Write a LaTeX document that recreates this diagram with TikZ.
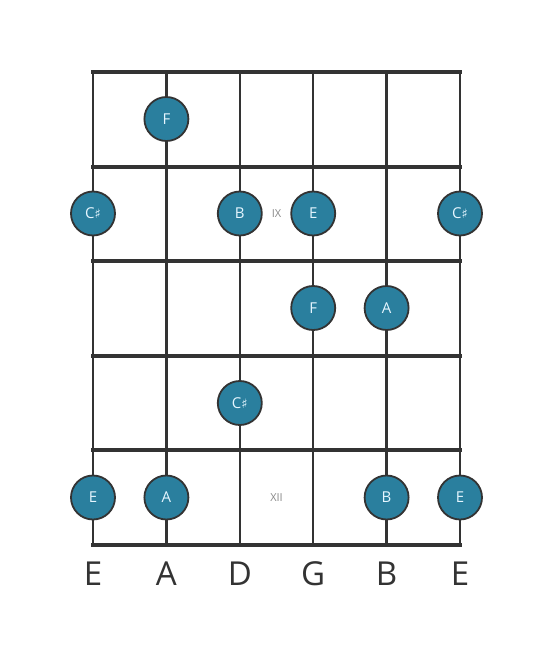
\documentclass[tikz,border=0pt]{standalone}
\usepackage{fontspec}
\setmainfont{Open Sans}
\newfontfamily\symfont{DejaVu Sans}
\newcommand{\shp}{{\symfont\fontsize{13}{13}\selectfont ♯}}
\definecolor{linec}{HTML}{333333}
\definecolor{notefill}{HTML}{2A7F9E}
\definecolor{notetext}{HTML}{E6F6FF}
\definecolor{fretnum}{HTML}{8A8A8A}
\begin{document}
\begin{tikzpicture}[x=1pt,y=-1pt,
  stringline/.style={draw=linec,line width=2.4pt},
  fretline/.style={draw=linec,line width=4pt},
  note/.style={circle,draw=linec,line width=1.8pt,fill=notefill,minimum size=44pt,inner sep=0pt,text=notetext,font=\fontsize{15}{15}\selectfont},
  fretlabel/.style={text=fretnum,font=\fontsize{11}{11}\selectfont},
  stringname/.style={text=linec,font=\fontsize{33}{33}\selectfont}]
\useasboundingbox (0,0) rectangle (553,656);
\fill[white] (0,0) rectangle (553,656);
% strings
\foreach \i/\x in {1/93,2/166.4,3/239.8,4/313.2,5/386.6,6/460}{
  \coordinate (st\i) at (\x,72);
  \coordinate (sb\i) at (\x,544.5);
  \draw[stringline] (st\i) -- (sb\i);
}
% frets
\foreach \j/\y in {0/72,1/166.5,2/261,3/355.5,4/450,5/544.5}{
  \coordinate (fl\j) at (91,\y);
  \coordinate (fr\j) at (462,\y);
  \draw[fretline] (fl\j) -- (fr\j);
}
% fret numbers
\node[fretlabel] (ix) at (276.5,213.5) {IX};
\node[fretlabel] (xii) at (276.5,497.5) {XII};
% notes
\node[note] (n1) at (166.4,119) {F};
\node[note] (n2) at (93,213.5) {C\shp};
\node[note] (n3) at (239.8,213.5) {B};
\node[note] (n4) at (313.2,213.5) {E};
\node[note] (n5) at (460,213.5) {C\shp};
\node[note] (n6) at (313.2,308) {F};
\node[note] (n7) at (386.6,308) {A};
\node[note] (n8) at (239.8,403) {C\shp};
\node[note] (n9) at (93,497.5) {E};
\node[note] (n10) at (166.4,497.5) {A};
\node[note] (n11) at (386.6,497.5) {B};
\node[note] (n12) at (460,497.5) {E};
% string names
\foreach \i/\x/\n in {1/93/E,2/166.4/A,3/239.8/D,4/313.2/G,5/386.6/B,6/460/E}{
  \node[stringname] (sn\i) at (\x,574) {\n};
}
\end{tikzpicture}
\end{document}
